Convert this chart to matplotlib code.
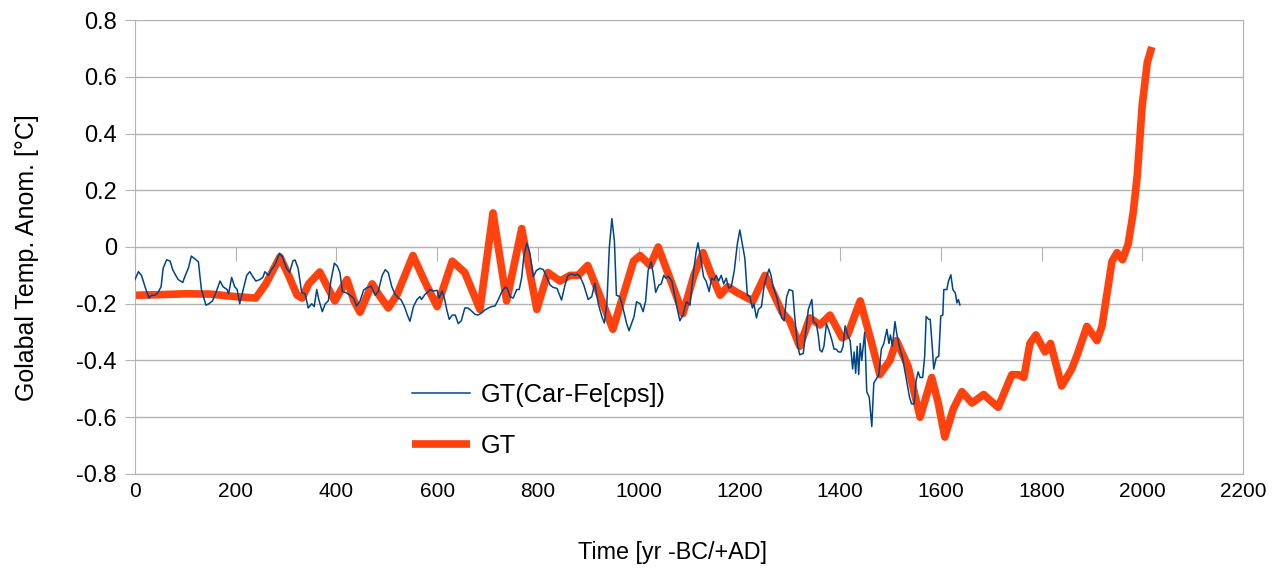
import matplotlib.pyplot as plt

plt.rcParams['font.family'] = ['Liberation Sans', 'DejaVu Sans']

# GT(Car-Fe[cps]) - thin blue series
car_years = [0, 7, 13, 20, 28, 33, 40, 46, 52, 56, 63, 70, 75, 81, 86, 95, 99, 106, 112, 121,
             126, 132, 141, 147, 154, 161, 169, 175, 183, 186, 192, 198, 203, 208, 215, 222, 228,
             235, 240, 248, 254, 258, 265, 271, 278, 287, 293, 301, 307, 314, 318, 324, 331, 338,
             344, 351, 356, 361, 365, 372, 378, 384, 389, 396, 402, 407, 412, 418, 427, 434, 440,
             447, 454, 460, 469, 477, 483, 491, 497, 503, 510, 516, 523, 528, 535, 541, 546, 553,
             560, 566, 569, 576, 581, 586, 592, 600, 604, 610, 615, 619, 624, 630, 636, 642, 648,
             655, 661, 668, 675, 681, 688, 695, 702, 708, 715, 721, 728, 735, 739, 745, 751, 758,
             763, 768, 772, 778, 784, 791, 797, 804, 811, 816, 824, 830, 838, 847, 854, 860, 867,
             874, 878, 884, 891, 900, 907, 913, 920, 927, 932, 937, 942, 947, 952, 956, 963, 971,
             976, 981, 986, 991, 996, 1003, 1009, 1014, 1019, 1025, 1029, 1034, 1040, 1045, 1050,
             1054, 1059, 1066, 1072, 1077, 1082, 1088, 1095, 1102, 1108, 1114, 1118, 1123, 1129,
             1134, 1140, 1145, 1150, 1154, 1159, 1164, 1169, 1174, 1179, 1184, 1190, 1196, 1201,
             1206, 1211, 1216, 1221, 1226, 1229, 1234, 1238, 1244, 1249, 1254, 1259, 1263, 1267,
             1274, 1279, 1284, 1289, 1294, 1299, 1306, 1310, 1315, 1320, 1327, 1333, 1337, 1341,
             1344, 1347, 1353, 1357, 1360, 1364, 1368, 1373, 1379, 1384, 1388, 1392, 1397, 1402,
             1406, 1410, 1416, 1420, 1425, 1428, 1431, 1434, 1437, 1440, 1443, 1449, 1453, 1458,
             1463, 1467, 1472, 1477, 1482, 1487, 1493, 1497, 1500, 1504, 1509, 1513, 1519, 1524,
             1529, 1533, 1538, 1542, 1547, 1551, 1555, 1559, 1564, 1568, 1571, 1576, 1579, 1583,
             1586, 1591, 1596, 1600, 1604, 1606, 1612, 1615, 1620, 1624, 1629, 1632, 1635, 1638]
car_temp = [-0.115, -0.087, -0.1, -0.14, -0.18, -0.17, -0.17, -0.16, -0.14, -0.075, -0.045, -0.05,
            -0.08, -0.1, -0.115, -0.125, -0.105, -0.075, -0.032, -0.045, -0.052, -0.15, -0.205, -0.2,
            -0.19, -0.16, -0.12, -0.14, -0.15, -0.165, -0.107, -0.14, -0.15, -0.2, -0.15, -0.1,
            -0.087, -0.107, -0.12, -0.115, -0.107, -0.087, -0.1, -0.08, -0.063, -0.022, -0.035,
            -0.075, -0.09, -0.048, -0.046, -0.075, -0.16, -0.165, -0.215, -0.2, -0.21, -0.15,
            -0.185, -0.228, -0.2, -0.19, -0.12, -0.057, -0.068, -0.09, -0.157, -0.16, -0.17, -0.18,
            -0.208, -0.19, -0.152, -0.144, -0.138, -0.17, -0.157, -0.1, -0.08, -0.09, -0.14,
            -0.165, -0.18, -0.185, -0.21, -0.24, -0.262, -0.21, -0.185, -0.175, -0.185, -0.167,
            -0.16, -0.15, -0.155, -0.153, -0.18, -0.155, -0.185, -0.22, -0.255, -0.24, -0.24,
            -0.27, -0.26, -0.215, -0.215, -0.225, -0.237, -0.24, -0.233, -0.222, -0.215, -0.21,
            -0.208, -0.187, -0.16, -0.142, -0.145, -0.175, -0.18, -0.15, -0.15, -0.107, -0.034,
            0.013, -0.02, -0.105, -0.083, -0.075, -0.08, -0.1, -0.133, -0.142, -0.146, -0.187,
            -0.133, -0.1, -0.095, -0.1, -0.095, -0.105, -0.133, -0.185, -0.175, -0.128, -0.2,
            -0.245, -0.268, -0.2, 0.0, 0.1, 0.02, -0.17, -0.175, -0.23, -0.268, -0.295, -0.27,
            -0.245, -0.193, -0.2, -0.228, -0.19, -0.082, -0.052, -0.094, -0.16, -0.135, -0.13,
            -0.1, -0.11, -0.103, -0.12, -0.175, -0.22, -0.26, -0.24, -0.193, -0.205, -0.103,
            -0.02, 0.015, -0.035, -0.105, -0.12, -0.157, -0.11, -0.117, -0.1, -0.12, -0.1, -0.13,
            -0.11, -0.145, -0.14, -0.083, 0.01, 0.06, 0.01, -0.04, -0.17, -0.175, -0.215, -0.2,
            -0.25, -0.22, -0.21, -0.14, -0.105, -0.078, -0.1, -0.14, -0.175, -0.215, -0.25, -0.26,
            -0.175, -0.15, -0.155, -0.245, -0.34, -0.38, -0.375, -0.28, -0.22, -0.2, -0.185,
            -0.263, -0.27, -0.315, -0.363, -0.37, -0.35, -0.27, -0.3, -0.33, -0.36, -0.36, -0.37,
            -0.37, -0.35, -0.278, -0.315, -0.33, -0.43, -0.37, -0.445, -0.35, -0.45, -0.34, -0.4,
            -0.3, -0.51, -0.53, -0.633, -0.48, -0.465, -0.45, -0.36, -0.34, -0.29, -0.34, -0.31,
            -0.35, -0.263, -0.31, -0.36, -0.39, -0.44, -0.48, -0.53, -0.553, -0.553, -0.47, -0.44,
            -0.46, -0.46, -0.385, -0.245, -0.255, -0.255, -0.35, -0.43, -0.39, -0.385, -0.243,
            -0.24, -0.15, -0.15, -0.122, -0.098, -0.15, -0.163, -0.197, -0.185, -0.204]

# GT - thick orange series
gt_years = [0, 50, 100, 150, 200, 240, 260, 288, 305, 322, 332, 345, 367, 385, 397, 421, 435,
            447, 471, 485, 503, 520, 552, 575, 600, 630, 655, 685, 711, 738, 768, 798, 820, 844,
            864, 880, 899, 925, 949, 973, 990, 1003, 1023, 1039, 1060, 1088, 1110, 1128, 1145,
            1162, 1177, 1195, 1227, 1251, 1285, 1300, 1320, 1340, 1360, 1380, 1404, 1415, 1440,
            1460, 1479, 1499, 1512, 1535, 1559, 1582, 1595, 1608, 1625, 1642, 1662, 1685, 1714,
            1741, 1754, 1765, 1777, 1789, 1807, 1818, 1840, 1860, 1872, 1890, 1910, 1920, 1940,
            1950, 1961, 1972, 1982, 1990, 2000, 2010, 2019]
gt_temp = [-0.17, -0.168, -0.165, -0.166, -0.175, -0.18, -0.13, -0.035, -0.1, -0.17, -0.18, -0.13,
           -0.088, -0.15, -0.19, -0.115, -0.19, -0.23, -0.13, -0.17, -0.215, -0.17, -0.03, -0.12,
           -0.21, -0.05, -0.09, -0.22, 0.12, -0.19, 0.065, -0.22, -0.09, -0.12, -0.1, -0.1,
           -0.065, -0.18, -0.29, -0.15, -0.05, -0.03, -0.065, 0.0, -0.1, -0.235, -0.1, -0.02,
           -0.1, -0.17, -0.14, -0.16, -0.19, -0.1, -0.23, -0.26, -0.35, -0.25, -0.275, -0.24,
           -0.32, -0.31, -0.19, -0.32, -0.45, -0.4, -0.33, -0.42, -0.6, -0.46, -0.55, -0.67,
           -0.57, -0.51, -0.55, -0.52, -0.565, -0.45, -0.45, -0.46, -0.34, -0.31, -0.37, -0.34,
           -0.49, -0.43, -0.375, -0.28, -0.33, -0.28, -0.05, -0.02, -0.045, 0.01, 0.12, 0.25,
           0.5, 0.65, 0.705]

x_ticks = list(range(0, 2201, 200))
y_ticks = [-0.8, -0.6, -0.4, -0.2, 0, 0.2, 0.4, 0.6, 0.8]
y_labels = ['-0.8', '-0.6', '-0.4', '-0.2', '0', '0.2', '0.4', '0.6', '0.8']

grid_col = '#b3b3b3'

fig = plt.figure(figsize=(12.85, 5.75), dpi=100)
ax = fig.add_axes([0.105, 0.1757, 0.8623, 0.7895])

ax.plot(car_years, car_temp, color='#004586', lw=1.1, label='GT(Car-Fe[cps])', zorder=3)
ax.plot(gt_years, gt_temp, color='#ff420e', lw=5.5, label='GT', zorder=2,
        solid_joinstyle='round', solid_capstyle='butt')

ax.set_xlim(0, 2200)
ax.set_ylim(-0.8, 0.8)
ax.set_xticks(x_ticks)
ax.set_yticks(y_ticks)
ax.set_yticklabels(y_labels)
ax.yaxis.grid(True, color=grid_col, lw=1)
ax.set_axisbelow(True)
for s in ax.spines.values():
    s.set_color(grid_col)
ax.spines['top'].set_visible(False)
ax.tick_params(axis='x', length=0, pad=6, labelsize=15, colors='black')
ax.tick_params(axis='y', length=7, pad=6, color=grid_col, labelsize=17, labelcolor='black')

# x axis ticks sit on the zero line
sec = ax.secondary_xaxis(0.5)
sec.set_xticks(x_ticks)
sec.tick_params(axis='x', top=False, bottom=True, labeltop=False, labelbottom=False,
                direction='out', length=10, color=grid_col)
sec.spines['bottom'].set_color(grid_col)
sec.spines['top'].set_color(grid_col)

ax.set_xlabel('Time [yr -BC/+AD]', fontsize=16.8)
ax.set_ylabel('Golabal Temp. Anom. [°C]', fontsize=18)
ax.xaxis.set_label_coords(0.485, -0.148)
ax.yaxis.set_label_coords(-0.087, 0.477)

ax.legend(loc='upper left', bbox_to_anchor=(0.3206, 0.334), bbox_transform=fig.transFigure,
          frameon=False, fontsize=18.3, handlelength=2.3, handletextpad=0.4,
          labelspacing=1.05, borderpad=0, borderaxespad=0)

fig.savefig('out.png', dpi=100)
